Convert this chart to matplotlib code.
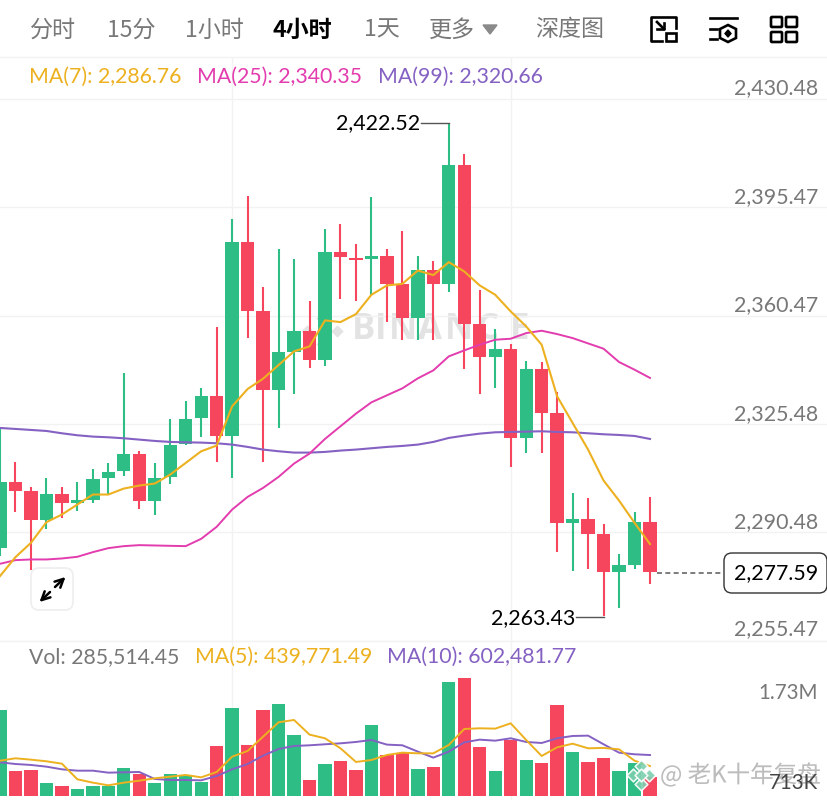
#----------------------------K线图 4小时----------------------------
import matplotlib
matplotlib.use("Agg")
import matplotlib.pyplot as plt
from matplotlib.patches import FancyBboxPatch, Polygon, Rectangle
import matplotlib.patheffects as pe

#----------------------------数据----------------------------
opens = [2285.54, 2306.81, 2303.80, 2294.45, 2303.05, 2299.93, 2301.11, 2307.99, 2310.25, 2315.94, 2300.79,
         2308.31, 2319.05, 2327.43, 2334.63, 2321.74, 2384.15, 2361.81, 2336.35, 2348.81, 2355.36, 2346.23,
         2380.93, 2379.10, 2378.78, 2379.85, 2370.62, 2359.55, 2375.23, 2370.72, 2408.96, 2357.73, 2347.20,
         2349.67, 2320.88, 2343.22, 2329.04, 2293.49, 2294.88, 2289.94, 2277.80, 2279.95, 2293.81]
highs = [2324.21, 2313.25, 2305.09, 2308.10, 2305.30, 2306.81, 2311.00, 2312.93, 2341.93, 2316.69, 2312.93,
         2327.22, 2333.02, 2337.10, 2356.65, 2391.56, 2398.97, 2369.76, 2382.00, 2378.78, 2365.03, 2388.34,
         2389.95, 2383.51, 2398.87, 2382.00, 2387.91, 2379.85, 2378.13, 2422.52, 2412.62, 2368.68, 2356.11,
         2351.28, 2345.80, 2345.59, 2335.81, 2303.16, 2301.54, 2293.27, 2283.61, 2297.14, 2301.87]
lows = [2282.85, 2297.14, 2278.23, 2291.45, 2295.21, 2297.57, 2299.93, 2302.73, 2308.63, 2298.11, 2296.17,
        2306.27, 2318.84, 2321.42, 2313.15, 2308.20, 2353.11, 2313.15, 2324.32, 2335.06, 2343.65, 2344.08,
        2365.78, 2365.14, 2367.18, 2358.26, 2352.68, 2352.46, 2352.46, 2368.15, 2343.33, 2335.27, 2336.99,
        2311.53, 2316.15, 2316.15, 2284.14, 2278.02, 2278.77, 2263.43, 2266.10, 2278.56, 2273.72]
closes = [2306.81, 2304.02, 2294.45, 2303.05, 2299.93, 2301.01, 2307.77, 2310.14, 2315.94, 2300.79, 2308.10,
          2318.73, 2327.22, 2334.63, 2321.74, 2384.15, 2361.91, 2336.35, 2348.59, 2355.36, 2346.23, 2380.93,
          2379.32, 2378.56, 2379.85, 2370.72, 2359.55, 2375.23, 2370.72, 2408.96, 2357.83, 2347.20, 2349.67,
          2320.88, 2343.22, 2329.04, 2293.49, 2294.88, 2290.05, 2277.80, 2279.95, 2293.81, 2277.59]

ma7 = [2276.41, 2282.53, 2287.15, 2293.81, 2296.28, 2299.50, 2302.73, 2302.73, 2304.66, 2305.63, 2306.27,
       2309.17, 2312.93, 2316.69, 2318.52, 2331.19, 2336.78, 2340.11, 2344.51, 2348.92, 2350.53, 2358.91,
       2358.37, 2360.95, 2367.18, 2370.19, 2370.72, 2375.02, 2373.52, 2377.71, 2374.70, 2370.19, 2367.18,
       2361.81, 2356.97, 2351.07, 2334.42, 2325.82, 2317.23, 2307.24, 2300.79, 2293.60, 2286.76]
ma25 = [2280.38, 2281.56, 2281.78, 2281.78, 2282.10, 2282.64, 2284.14, 2285.43, 2286.08, 2286.40, 2286.29,
        2286.18, 2286.08, 2288.44, 2292.31, 2297.89, 2301.97, 2304.87, 2308.42, 2312.72, 2315.94, 2320.67,
        2324.75, 2328.83, 2332.48, 2334.74, 2336.99, 2340.22, 2342.79, 2347.31, 2349.24, 2351.07, 2352.68,
        2353.00, 2354.82, 2355.58, 2354.50, 2353.21, 2351.49, 2349.78, 2345.48, 2343.01, 2340.35]
ma99 = [2324.21, 2323.89, 2323.57, 2323.24, 2322.49, 2321.85, 2321.42, 2321.20, 2320.88, 2320.45, 2320.02,
        2319.70, 2319.59, 2319.48, 2319.27, 2318.84, 2318.09, 2317.23, 2316.69, 2316.26, 2316.26, 2316.48,
        2316.91, 2317.23, 2317.66, 2318.09, 2318.41, 2318.84, 2319.70, 2320.99, 2321.74, 2322.38, 2322.81,
        2322.92, 2323.03, 2323.14, 2322.92, 2322.81, 2322.49, 2322.17, 2321.95, 2321.63, 2320.66]

#volume in thousands
volumes = [1264, 363, 387, 196, 147, 108, 152, 147, 407, 319, 186, 319, 294, 206, 735, 1294, 745, 1264, 1348,
           892, 230, 470, 510, 387, 1049, 603, 627, 392, 421, 1681, 1730, 715, 368, 823, 524, 490, 1333, 642,
           505, 554, 363, 480, 285.5]
vol_ma5 = [519, 554, 534, 510, 475, 245, 196, 157, 196, 225, 260, 284, 309, 274, 353, 578, 662, 872, 1083,
           1117, 902, 848, 701, 500, 529, 603, 637, 627, 627, 750, 985, 995, 990, 1068, 823, 588, 715, 769,
           701, 706, 686, 519, 440]
vol_ma10 = [495, 470, 456, 431, 392, 372, 372, 343, 348, 353, 250, 235, 235, 230, 294, 392, 470, 593, 691,
            735, 745, 760, 774, 794, 823, 755, 745, 652, 564, 652, 789, 828, 813, 848, 794, 779, 848, 882,
            887, 760, 637, 613, 602]

price_ticks = [2430.48, 2395.47, 2360.47, 2325.48, 2290.48, 2255.47]
tab_labels = ["分时", "15分", "1小时", "4小时", "1天", "更多", "深度图"]
last_price = 2277.59
high_price = 2422.52
low_price = 2263.43

#----------------------------样式----------------------------
GREEN = "#2EBD85"
RED = "#F6465D"
YELLOW = "#EDB120"
PINK = "#E23CAE"
PURPLE = "#8461C2"
GRAY = "#787878"
GRID = "#F2F2F2"
LATIN = ["Lato", "DejaVu Sans"]
CJK = ["Noto Sans CJK SC", "DejaVu Sans"]
PX = 0.72  #1 pixel in points at dpi 100
NUM_SIZE = 15.4

idx = list(range(len(closes)))
colors = [GREEN if c >= o else RED for o, c in zip(opens, closes)]
STEP = 15.476  #pixels between candles

fig = plt.figure(figsize=(8.28, 8), dpi=100, facecolor="white")

#----------------------------BINANCE 水印 (蜡烛下面)----------------------------
wm = fig.add_axes([0, 0, 1, 1], facecolor="none")
wm.set_xlim(0, 828)
wm.set_ylim(800, 0)
wm.axis("off")
wm.set_zorder(0)
for letter, x in zip("BINANCE", [364, 381, 403, 430, 459, 488, 520]):
    wm.text(x, 330, letter, ha="center", va="center", fontsize=25, family=["Open Sans"], fontweight="bold",
            color="#E3E3E3")
for (x, y) in [(322, 331), (307, 331), (337, 331), (322, 318), (322, 344)]:
    wm.scatter([x], [y], marker="D", s=40, color="#E3E3E3", lw=0)

#----------------------------主图----------------------------
ax = fig.add_axes([0, 159 / 800, 1, 584 / 800], facecolor="none")
ax.set_xlim(0, 828 / STEP)
ax.set_ylim(2255.47, 2443.9)
ax.axis("off")
ax.set_zorder(1)

for t in price_ticks:
    ax.axhline(t, color=GRID, lw=1, zorder=1)
    off = 2 if t == price_ticks[-1] else 0
    ax.annotate(f"{t:,.2f}", (818 / STEP, t), xytext=(0, off * PX), textcoords="offset points", ha="right",
                va="bottom", fontsize=NUM_SIZE, color=GRAY, family=LATIN, zorder=6, annotation_clip=False)
for i in (15, 33):
    ax.axvline(i, color=GRID, lw=1, zorder=1)

ax.vlines(idx, lows, highs, colors=colors, lw=1.5, zorder=3)
bar_h = [max(abs(c - o), 0.4) for o, c in zip(opens, closes)]
bar_b = [min(o, c) for o, c in zip(opens, closes)]
ax.bar(idx, bar_h, bottom=bar_b, width=0.86, color=colors, zorder=3)

ax.plot(idx, ma99, color=PURPLE, lw=1.5, zorder=4)
ax.plot(idx, ma25, color=PINK, lw=1.4, zorder=4)
ax.plot(idx, ma7, color=YELLOW, lw=1.5, zorder=5)

#----------------------------成交量----------------------------
vax = fig.add_axes([0, 0, 1, 159 / 800], facecolor="none")
vax.set_xlim(0, 828 / STEP)
vax.set_ylim(-59, 2278)
vax.axis("off")
vax.set_zorder(1)
vax.axvline(15, color=GRID, lw=1, zorder=1)
vax.axvline(33, color=GRID, lw=1, zorder=1)
vax.bar(idx, volumes, width=0.86, color=colors, zorder=3)
vax.plot(idx, vol_ma10, color=PURPLE, lw=1.4, zorder=4)
vax.plot(idx, vol_ma5, color=YELLOW, lw=1.4, zorder=5)

#----------------------------界面层 (像素坐标)----------------------------
ui = fig.add_axes([0, 0, 1, 1], facecolor="none")
ui.set_xlim(0, 828)
ui.set_ylim(800, 0)
ui.axis("off")
ui.set_zorder(10)

ui.plot([0, 828], [57, 57], color=GRID, lw=1)
ui.plot([0, 828], [641, 641], color=GRID, lw=1)

tab_x = [30, 107, 185, 273, 364, 429, 535]
for label, x in zip(tab_labels, tab_x):
    active = label == "4小时"
    ui.text(x, 30, label, ha="left", va="center", fontsize=16.6, family=CJK,
            color="black" if active else GRAY, fontweight="bold" if active else "normal")
ui.add_patch(Polygon([(483, 25), (497, 25), (490, 34)], closed=True, color="#8a8a8a"))

#图标 1
ui.plot([676, 676, 651, 651, 662], [28, 17, 17, 41, 41], color="black", lw=1.9, solid_joinstyle="round")
ui.plot([657, 664], [22, 29], color="black", lw=1.9)
ui.plot([664, 664, 657], [23, 29, 29], color="black", lw=1.9)
ui.add_patch(Rectangle((666, 33), 10, 8, fill=False, ec="black", lw=1.9))
#图标 2
ui.plot([710, 737], [18, 18], color="black", lw=1.9)
ui.plot([710, 717], [29, 29], color="black", lw=1.9)
ui.plot([710, 717], [39, 39], color="black", lw=1.9)
ui.add_patch(Polygon([(728, 25), (736, 29), (736, 38), (728, 42), (720, 38), (720, 29)], closed=True,
                     fill=False, ec="black", lw=1.9))
ui.add_patch(Polygon([(728, 30), (731, 33.5), (728, 37), (725, 33.5)], closed=True, color="black"))
#图标 3
for x in (771, 786):
    for y in (17, 32):
        ui.add_patch(FancyBboxPatch((x + 1, y + 1), 9, 8, boxstyle="round,pad=1", fill=False, ec="black", lw=1.9))

#均线数值
ui.text(29, 77, "MA(7): 2,286.76", color=YELLOW, fontsize=15.3, family=LATIN, va="center")
ui.text(197, 77, "MA(25): 2,340.35", color=PINK, fontsize=15.3, family=LATIN, va="center")
ui.text(378, 77, "MA(99): 2,320.66", color=PURPLE, fontsize=15.3, family=LATIN, va="center")
ui.text(29, 657, "Vol: 285,514.45", color=GRAY, fontsize=15.3, family=LATIN, va="center")
ui.text(195, 657, "MA(5): 439,771.49", color=YELLOW, fontsize=15.3, family=LATIN, va="center")
ui.text(387, 657, "MA(10): 602,481.77", color=PURPLE, fontsize=15.3, family=LATIN, va="center")

#最高 最低
ui.text(420, 123, f"{high_price:,.2f}", ha="right", va="center", fontsize=NUM_SIZE, family=LATIN, color="black")
ui.plot([421, 449], [123, 123], color="#555555", lw=1)
ui.text(575, 618, f"{low_price:,.2f}", ha="right", va="center", fontsize=NUM_SIZE, family=LATIN, color="black")
ui.plot([576, 604], [617, 617], color="#555555", lw=1)

#现价
ui.plot([657, 723], [573, 573], color="#666666", lw=1.2, ls=(0, (3, 2)))
ui.add_patch(FancyBboxPatch((727, 556), 97, 34, boxstyle="round,pad=3,rounding_size=8", fc="white", ec="#333333", lw=1))
ui.text(818, 573, f"{last_price:,.2f}", ha="right", va="center", fontsize=NUM_SIZE, family=LATIN, color="black")

#展开按钮
ui.add_patch(FancyBboxPatch((35, 572), 34, 34, boxstyle="round,pad=4,rounding_size=8", fc="white", ec="#EEEEEE", lw=1.2))
arrow = dict(arrowstyle="->", color="black", lw=1.8, mutation_scale=15, shrinkA=0, shrinkB=0)
ui.annotate("", (65.5, 577), (55, 587), arrowprops=arrow)
ui.annotate("", (39.5, 602), (50, 592), arrowprops=arrow)

#公众号水印
outline = [pe.withStroke(linewidth=1.8, foreground="white", alpha=0.6)]
for (x, y) in [(641, 766), (633, 775), (649, 775), (641, 784), (641, 775)]:
    ui.scatter([x], [y], marker="D", s=42, fc="#7CCFAE", ec="white", lw=1.2, alpha=0.9)
ui.text(660, 775, "@ 老K十年复盘", ha="left", va="center", fontsize=17, family=CJK, color="#BCBCBC",
        path_effects=outline)

#成交量刻度
ui.text(818, 693, "1.73M", ha="right", va="center", fontsize=14.8, family=LATIN, color=GRAY)
ui.text(818, 783, "713K", ha="right", va="center", fontsize=14.8, family=LATIN, color="#444444")

fig.savefig("out.png", dpi=100)
